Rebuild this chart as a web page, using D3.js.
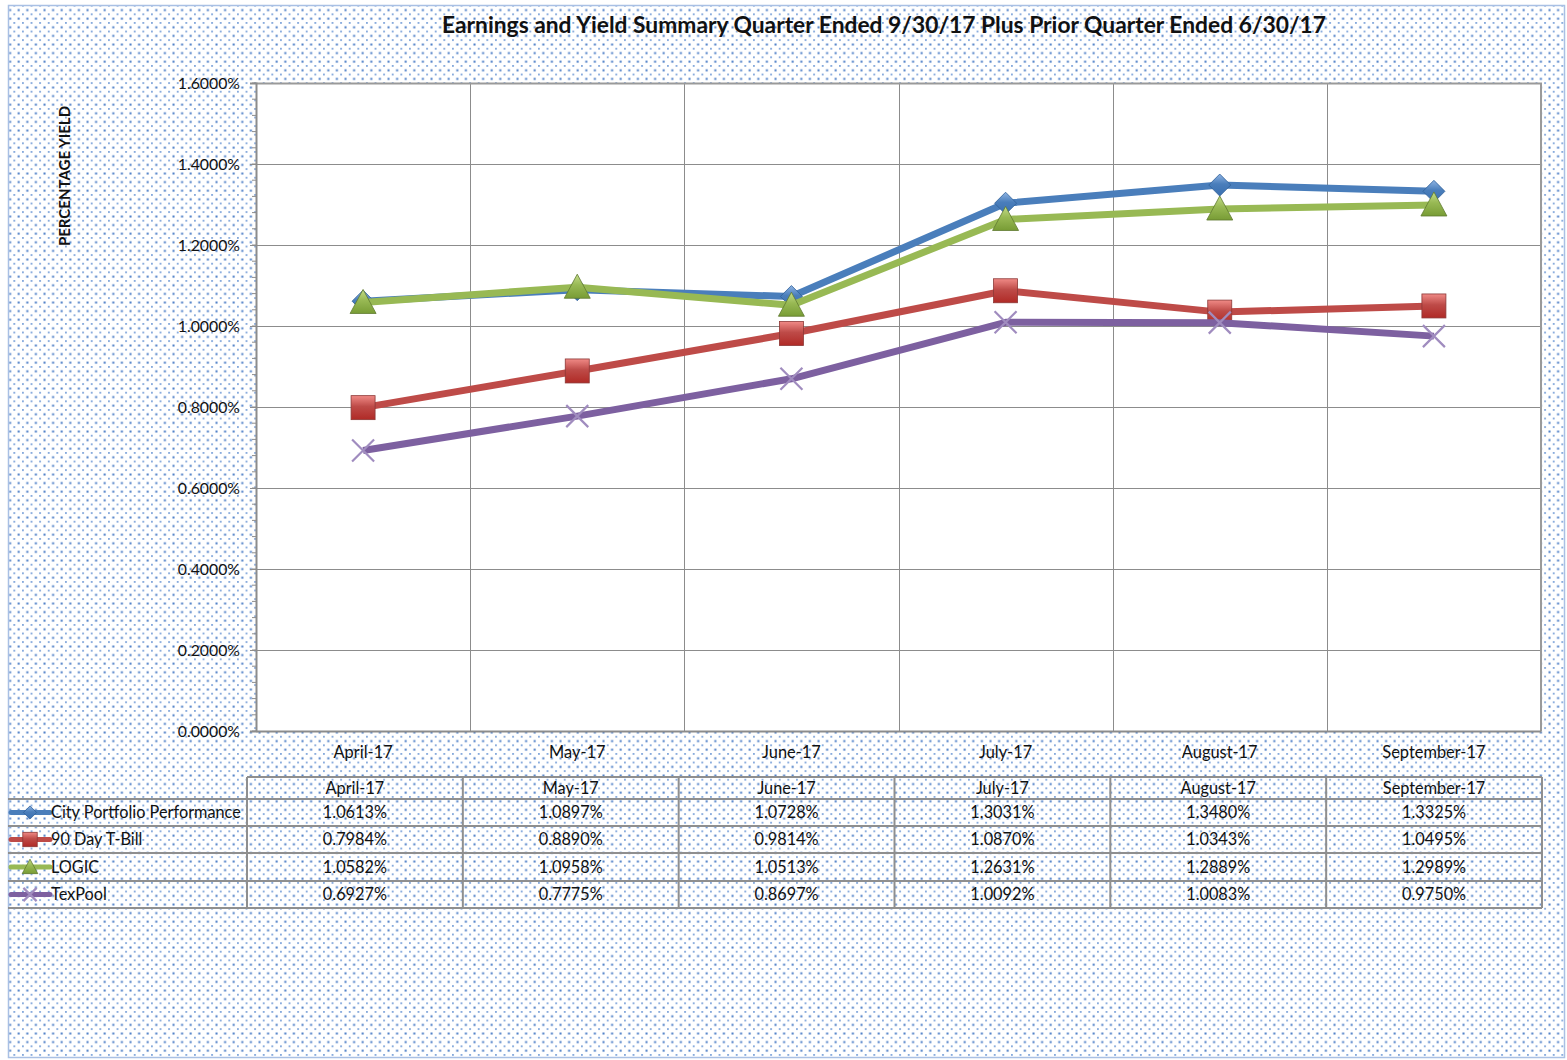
<!DOCTYPE html>
<html lang="en">
<head>
    <meta charset="UTF-8">
    <title>Earnings and Yield Summary</title>
    <script src="https://d3js.org/d3.v7.min.js"></script>
    <style>
        body { margin: 0; background: #fff; }
        text { font-family: Lato, "Open Sans", sans-serif; fill: #111; }
    </style>
</head>
<body>
    <svg width="1567" height="1060"></svg>

    <script>
        // Months along the x axis
        const months = ["April-17", "May-17", "June-17", "July-17", "August-17", "September-17"];

        // Series names and values (percent)
        const seriesNames = ["City Portfolio Performance", "90 Day T-Bill", "LOGIC", "TexPool"];
        const cityValues = [1.0613, 1.0897, 1.0728, 1.3031, 1.3480, 1.3325];
        const tbillValues = [0.7984, 0.8890, 0.9814, 1.0870, 1.0343, 1.0495];
        const logicValues = [1.0582, 1.0958, 1.0513, 1.2631, 1.2889, 1.2989];
        const texpoolValues = [0.6927, 0.7775, 0.8697, 1.0092, 1.0083, 0.9750];

        // Y axis ticks
        const yTicks = [0, 0.2, 0.4, 0.6, 0.8, 1.0, 1.2, 1.4, 1.6];

        const width = 1567, height = 1060;
        const plot = {left: 256, right: 1541, top: 83, bottom: 731};

        const series = [
            {name: seriesNames[0], values: cityValues, color: "#4a7ebb", marker: "diamond", grad: ["#8fb4e3", "#3a6fb0"]},
            {name: seriesNames[1], values: tbillValues, color: "#be4b48", marker: "square", grad: ["#f08a86", "#b02a26"]},
            {name: seriesNames[2], values: logicValues, color: "#98b954", marker: "triangle", grad: ["#c4dc8a", "#789c35"]},
            {name: seriesNames[3], values: texpoolValues, color: "#7d60a0", marker: "x", grad: ["#a793c2", "#a793c2"]}
        ];

        const svg = d3.select("svg");
        const defs = svg.append("defs");

        // Dotted background pattern
        const pat = defs.append("pattern")
            .attr("id", "dots")
            .attr("patternUnits", "userSpaceOnUse")
            .attr("width", 8.6).attr("height", 8.6);
        pat.append("rect").attr("width", 8.6).attr("height", 8.6).attr("fill", "#fff");
        pat.append("rect").attr("x", 0.5).attr("y", 0.5).attr("width", 2).attr("height", 2).attr("fill", "#4a7cc6");
        pat.append("rect").attr("x", 4.8).attr("y", 4.8).attr("width", 1.8).attr("height", 1.8).attr("fill", "#7ea4da");

        // Marker gradients
        series.forEach((s, i) => {
            const g = defs.append("linearGradient")
                .attr("id", "grad" + i)
                .attr("x1", 0).attr("y1", 0).attr("x2", 0).attr("y2", 1);
            g.append("stop").attr("offset", "0%").attr("stop-color", s.grad[0]);
            g.append("stop").attr("offset", "45%").attr("stop-color", s.color);
            g.append("stop").attr("offset", "100%").attr("stop-color", s.grad[1]);
        });

        // Background and outer border
        svg.append("rect")
            .attr("x", 8.5).attr("y", 5.5)
            .attr("width", 1556).attr("height", 1052)
            .attr("fill", "url(#dots)")
            .attr("stroke", "#a9c0e4").attr("stroke-width", 1.5);

        // Title
        svg.append("text")
            .attr("x", 884).attr("y", 33)
            .attr("text-anchor", "middle")
            .style("font-size", "22.8px").style("font-weight", "bold")
            .text("Earnings and Yield Summary Quarter Ended 9/30/17 Plus Prior Quarter Ended 6/30/17");

        // Scales
        const x = d3.scaleBand().domain(months).range([plot.left, plot.right]);
        const y = d3.scaleLinear().domain([0, 1.6]).range([plot.bottom, plot.top]);

        // Plot area
        svg.append("rect")
            .attr("x", plot.left).attr("y", plot.top)
            .attr("width", plot.right - plot.left).attr("height", plot.bottom - plot.top)
            .attr("fill", "#fff");

        // Horizontal gridlines
        svg.append("g")
            .selectAll("line")
            .data(yTicks)
            .join("line")
            .attr("x1", plot.left).attr("x2", plot.right)
            .attr("y1", d => Math.round(y(d)) + 0.5).attr("y2", d => Math.round(y(d)) + 0.5)
            .attr("stroke", "#8c8c8c").attr("stroke-width", 1);

        // Vertical gridlines at category boundaries
        svg.append("g")
            .selectAll("line")
            .data(months.slice(1))
            .join("line")
            .attr("x1", d => Math.round(x(d)) + 0.5).attr("x2", d => Math.round(x(d)) + 0.5)
            .attr("y1", plot.top).attr("y2", plot.bottom)
            .attr("stroke", "#8c8c8c").attr("stroke-width", 1);

        // Plot area right/top border
        svg.append("path")
            .attr("d", `M${plot.left},${plot.top + 0.5}H${plot.right}V${plot.bottom}`)
            .attr("fill", "none").attr("stroke", "#9a9a9a").attr("stroke-width", 2);

        // Y axis with minor ticks
        const minor = d3.range(0, 1.6001, 0.04);
        svg.append("g")
            .selectAll("line")
            .data(minor)
            .join("line")
            .attr("x1", plot.left - 4).attr("x2", plot.left)
            .attr("y1", d => y(d)).attr("y2", d => y(d))
            .attr("stroke", "#8c8c8c");

        const yAxis = svg.append("g")
            .attr("transform", `translate(${plot.left},0)`)
            .call(d3.axisLeft(y).tickValues(yTicks).tickSize(6).tickPadding(10)
                .tickFormat(d => d.toFixed(4) + "%"));
        yAxis.select(".domain").attr("stroke", "#8c8c8c").attr("stroke-width", 2);
        yAxis.selectAll(".tick line").attr("stroke", "#8c8c8c");
        yAxis.selectAll("text").style("font-size", "15.8px").style("font-family", "Lato, sans-serif").attr("fill", "#111");

        // X axis
        const xAxis = svg.append("g")
            .attr("transform", `translate(0,${plot.bottom})`)
            .call(d3.axisBottom(x).tickSize(0).tickPadding(15));
        xAxis.select(".domain").attr("stroke", "#8c8c8c").attr("stroke-width", 2);
        xAxis.selectAll("text").style("font-size", "16.4px").style("font-family", "Lato, sans-serif").attr("fill", "#111");

        // Y axis title
        svg.append("text")
            .attr("transform", "translate(70,176) rotate(-90)")
            .attr("text-anchor", "middle")
            .style("font-size", "15px").style("font-weight", "bold")
            .text("PERCENTAGE YIELD");

        // Marker drawing helper
        function drawMarker(g, type, cx, cy, i, scale) {
            const k = scale || 1;
            if (type === "diamond") {
                const r = 11 * k;
                g.append("path")
                    .attr("d", `M${cx},${cy - r}L${cx + r},${cy}L${cx},${cy + r}L${cx - r},${cy}Z`)
                    .attr("fill", `url(#grad${i})`).attr("stroke", "#2f5f98").attr("stroke-width", 0.8);
            } else if (type === "square") {
                const r = 12 * k;
                g.append("rect")
                    .attr("x", cx - r).attr("y", cy - r)
                    .attr("width", 2 * r).attr("height", 2 * r)
                    .attr("fill", `url(#grad${i})`).attr("stroke", "#8c3836").attr("stroke-width", 0.8);
            } else if (type === "triangle") {
                const r = 13 * k;
                g.append("path")
                    .attr("d", `M${cx},${cy - r}L${cx + r},${cy + r * 0.85}L${cx - r},${cy + r * 0.85}Z`)
                    .attr("fill", `url(#grad${i})`).attr("stroke", "#5f7a30").attr("stroke-width", 0.8);
            } else {
                const r = 11 * k;
                g.append("path")
                    .attr("d", `M${cx - r},${cy - r}L${cx + r},${cy + r}M${cx - r},${cy + r}L${cx + r},${cy - r}`)
                    .attr("stroke", "#a08cbf").attr("stroke-width", 2.2);
            }
        }

        // Lines and markers
        const line = d3.line()
            .x((d, j) => x(months[j]) + x.bandwidth() / 2)
            .y(d => y(d));

        series.forEach((s, i) => {
            const g = svg.append("g");
            g.append("path")
                .datum(s.values)
                .attr("d", line)
                .attr("fill", "none")
                .attr("stroke", s.color)
                .attr("stroke-width", 7)
                .attr("stroke-linejoin", "round");
            s.values.forEach((v, j) => {
                drawMarker(g, s.marker, x(months[j]) + x.bandwidth() / 2, y(v), i, 1);
            });
        });

        // Data table
        const tx = d3.scaleBand().domain(months).range([247, 1542]);
        const rowTops = [777, 799, 826, 853, 881, 908];
        const table = svg.append("g");
        const gridColor = "#8f8f8f";

        // Horizontal lines
        table.append("line")
            .attr("x1", 247).attr("x2", 1542)
            .attr("y1", rowTops[0]).attr("y2", rowTops[0])
            .attr("stroke", gridColor).attr("stroke-width", 2);
        rowTops.slice(1).forEach(t => {
            table.append("line")
                .attr("x1", 8).attr("x2", 1542)
                .attr("y1", t).attr("y2", t)
                .attr("stroke", gridColor).attr("stroke-width", 2);
        });

        // Vertical lines
        months.forEach(m => {
            table.append("line")
                .attr("x1", tx(m)).attr("x2", tx(m))
                .attr("y1", rowTops[0]).attr("y2", rowTops[5])
                .attr("stroke", gridColor).attr("stroke-width", 2);
        });
        table.append("line")
            .attr("x1", 1542).attr("x2", 1542)
            .attr("y1", rowTops[0]).attr("y2", rowTops[5])
            .attr("stroke", gridColor).attr("stroke-width", 2);

        // Header row
        table.selectAll(".hdr")
            .data(months)
            .join("text")
            .attr("class", "hdr")
            .attr("x", d => tx(d) + tx.bandwidth() / 2)
            .attr("y", 794)
            .attr("text-anchor", "middle")
            .style("font-size", "16.3px")
            .text(d => d);

        // Series rows
        series.forEach((s, i) => {
            const top = rowTops[i + 1], bot = rowTops[i + 2];
            const mid = (top + bot) / 2;
            const g = table.append("g");
            g.append("line")
                .attr("x1", 11).attr("x2", 50)
                .attr("y1", mid).attr("y2", mid)
                .attr("stroke", s.color).attr("stroke-width", 5).attr("stroke-linecap", "round");
            drawMarker(g, s.marker, 30, mid, i, 0.6);
            g.append("text")
                .attr("x", 51).attr("y", mid + 5.5)
                .style("font-size", "16.3px")
                .text(s.name);
            g.selectAll(".val")
                .data(s.values)
                .join("text")
                .attr("class", "val")
                .attr("x", (d, j) => tx(months[j]) + tx.bandwidth() / 2)
                .attr("y", mid + 5.5)
                .attr("text-anchor", "middle")
                .style("font-size", "16.3px")
                .text(d => d.toFixed(4) + "%");
        });
    </script>
</body>
</html>
